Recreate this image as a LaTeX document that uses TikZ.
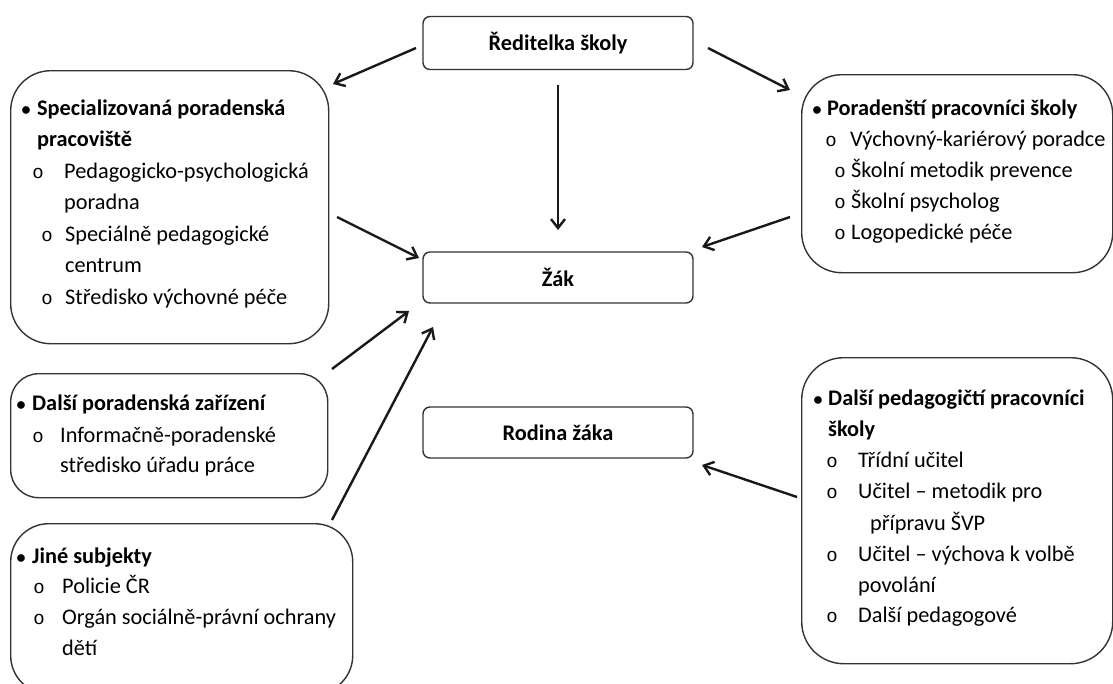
\documentclass[tikz,border=0pt]{standalone}
\usepackage{fontspec}
\setmainfont{Carlito}
\newfontfamily\monof{Liberation Mono}
\usetikzlibrary{arrows.meta}
\tikzset{
  bx/.style={draw=black!80, line width=1.4pt, rounded corners=#1, fill=white,
     inner sep=0pt, anchor=north west},
  cbox/.style={draw=black!80, line width=1.4pt, rounded corners=7pt, fill=white,
     minimum width=270pt, minimum height=53pt, inner sep=0pt,
     font=\fontsize{22.3}{26}\selectfont\bfseries},
  arr/.style={-{Straight Barb[length=9pt,width=14pt,line width=2.4pt]}, line width=2.4pt, black!90},
  txt/.style={anchor=base west, inner sep=0pt, font=\fontsize{22.3}{26}\selectfont},
  btxt/.style={anchor=base west, inner sep=0pt, font=\fontsize{22.3}{26}\selectfont\bfseries},
  bul/.style={anchor=base, inner sep=0pt, font=\fontsize{18}{20}\selectfont\bfseries},
  sub/.style={anchor=base, inner sep=0pt, font=\fontsize{19}{20}\monof},
}
\begin{document}
\begin{tikzpicture}[x=1pt,y=-1pt]
\useasboundingbox (0,0) rectangle (1113,683);
\clip (0,0) rectangle (1113,683);

% central boxes
\node[cbox] (dir) at (558,43) {Ředitelka školy};
\node[cbox, minimum height=51pt] (zak) at (558,277.5) {Žák};
\node[cbox, minimum height=51pt] (rod) at (558,432.5) {Rodina žáka};

% left box 1
\node[bx=40pt, minimum width=318pt, minimum height=273pt] (spec) at (10,70) {};
\node[bul] (spec0) at (26,115) {•};
\node[btxt] (spec1) at (37,115) {Specializovaná poradenská};
\node[btxt] (spec2) at (37,146) {pracoviště};
\node[sub] (spec3o) at (38,178) {o};
\node[txt] (spec3) at (64,178) {Pedagogicko-psychologická};
\node[txt] (spec4) at (64,209) {poradna};
\node[sub] (spec5o) at (47,241) {o};
\node[txt] (spec5) at (65,241) {Speciálně pedagogické};
\node[txt] (spec6) at (65,272) {centrum};
\node[sub] (spec7o) at (47,304) {o};
\node[txt] (spec7) at (65,304) {Středisko výchovné péče};

% left box 2
\node[bx=28pt, minimum width=317pt, minimum height=124pt] (dpz) at (10,373) {};
\node[bul] (dpz0) at (21,410) {•};
\node[btxt] (dpz1) at (32,410) {Další poradenská zařízení};
\node[sub] (dpz2o) at (38,442) {o};
\node[txt] (dpz2) at (60,442) {Informačně-poradenské};
\node[txt] (dpz3) at (60,472) {středisko úřadu práce};

% left box 3
\node[bx=38pt, minimum width=342pt, minimum height=170pt] (jin) at (10,523) {};
\node[bul] (jin0) at (21,563) {•};
\node[btxt] (jin1) at (32,563) {Jiné subjekty};
\node[sub] (jin2o) at (39,593) {o};
\node[txt] (jin2) at (62,593) {Policie ČR};
\node[sub] (jin3o) at (39,624) {o};
\node[txt] (jin3) at (62,624) {Orgán sociálně-právní ochrany};
\node[txt] (jin4) at (62,655) {dětí};

% right box 1
\node[bx=40pt, minimum width=311pt, minimum height=198pt] (por) at (801,74) {};
\node[bul] (por0) at (817,115) {•};
\node[btxt] (por1) at (827,115) {Poradenští pracovníci školy};
\node[sub] (por2o) at (831,146) {o};
\node[txt] (por2) at (850,146) {Výchovný-kariérový poradce};
\node[sub] (por3o) at (840,177) {o};
\node[txt] (por3) at (851,177) {Školní metodik prevence};
\node[sub] (por4o) at (840,208) {o};
\node[txt] (por4) at (851,208) {Školní psycholog};
\node[sub] (por5o) at (840,239) {o};
\node[txt] (por5) at (851,239) {Logopedické péče};

% right box 2
\node[bx=42pt, minimum width=311pt, minimum height=306pt] (ped) at (801,357) {};
\node[bul] (ped0) at (818,405) {•};
\node[btxt] (ped1) at (828,405) {Další pedagogičtí pracovníci};
\node[btxt] (ped2) at (828,436) {školy};
\node[sub] (ped3o) at (832,467) {o};
\node[txt] (ped3) at (858,467) {Třídní učitel};
\node[sub] (ped4o) at (832,498) {o};
\node[txt] (ped4) at (858,498) {Učitel – metodik pro};
\node[txt] (ped5) at (870,530) {přípravu ŠVP};
\node[sub] (ped6o) at (832,561) {o};
\node[txt] (ped6) at (858,561) {Učitel – výchova k volbě};
\node[txt] (ped7) at (858,592) {povolání};
\node[sub] (ped8o) at (832,622) {o};
\node[txt] (ped8) at (858,622) {Další pedagogové};

% arrow end points
\coordinate (a1s) at (416,48);  \coordinate (a1e) at (333,84);
\coordinate (a2s) at (708,48);  \coordinate (a2e) at (790,90);
\coordinate (a3s) at (558,85);  \coordinate (a3e) at (558,230);
\coordinate (a4s) at (337,217); \coordinate (a4e) at (419,258);
\coordinate (a5s) at (790,217); \coordinate (a5e) at (702,247);
\coordinate (a6s) at (332,369); \coordinate (a6e) at (409,311);
\coordinate (a7s) at (332,520); \coordinate (a7e) at (433,327);
\coordinate (a8s) at (797,497); \coordinate (a8e) at (702,465);

\draw[arr] (a1s) -- (a1e);
\draw[arr] (a2s) -- (a2e);
\draw[arr] (a3s) -- (a3e);
\draw[arr] (a4s) -- (a4e);
\draw[arr] (a5s) -- (a5e);
\draw[arr] (a6s) -- (a6e);
\draw[arr] (a7s) -- (a7e);
\draw[arr] (a8s) -- (a8e);
\end{tikzpicture}
\end{document}
